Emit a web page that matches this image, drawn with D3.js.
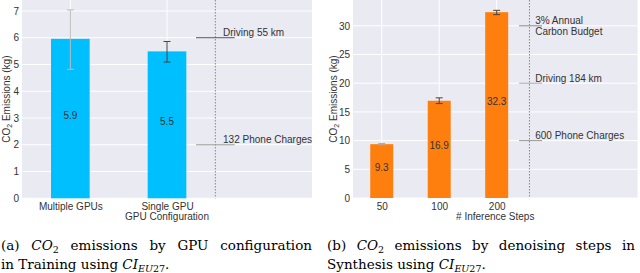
<!DOCTYPE html>
<html>
<head>
  <meta charset="utf-8">
  <style>
    body { margin: 0; background: #fff; }
    svg text { font-family: "Liberation Sans", Arial, sans-serif; }
    .cap { font-family: "DejaVu Serif", serif; }
  </style>
  <script src="https://d3js.org/d3.v7.min.js"></script>
</head>
<body>
  <div id="chart"></div>
  <script>
    // panel (a): GPU configuration
    const gpuConfigs = ["Multiple GPUs", "Single GPU"];
    const gpuEmissions = [5.96, 5.49];
    const gpuErrLow = [4.82, 5.09];
    const gpuErrHigh = [7.04, 5.86];
    const gpuBarLabels = ["5.9", "5.5"];
    const gpuRefValues = [6, 2];
    const gpuRefLabels = [["Driving 55 km"], ["132 Phone Charges"]];
    const gpuTicks = [0, 1, 2, 3, 4, 5, 6, 7];

    // panel (b): denoising steps
    const steps = ["50", "100", "200"];
    const stepEmissions = [9.38, 16.94, 32.38];
    const stepErrLow = [9.25, 16.45, 31.95];
    const stepErrHigh = [9.5, 17.45, 32.7];
    const stepBarLabels = ["9.3", "16.9", "32.3"];
    const stepRefValues = [30, 20, 10];
    const stepRefLabels = [["3% Annual", "Carbon Budget"], ["Driving 184 km"], ["600 Phone Charges"]];
    const stepTicks = [0, 5, 10, 15, 20, 25, 30];

    const svg = d3.select("#chart").append("svg")
      .attr("width", 640)
      .attr("height", 273);

    svg.append("rect").attr("width", 640).attr("height", 273).attr("fill", "#fff");

    function drawPanel(p) {
      const x = d3.scaleLinear().domain(p.xDomain).range([p.left, p.right]);
      const y = d3.scaleLinear().domain([0, p.yMax]).range([p.bottom, 0]);
      const g = svg.append("g");

      g.append("rect")
        .attr("x", p.left).attr("y", 0)
        .attr("width", p.right - p.left).attr("height", p.bottom)
        .attr("fill", "#eaeaf2");

      // grid
      g.selectAll(".hgrid").data(p.ticks).enter().append("line")
        .attr("x1", p.left).attr("x2", p.right)
        .attr("y1", d => y(d)).attr("y2", d => y(d))
        .attr("stroke", "#fff").attr("stroke-width", 1);
      g.selectAll(".vgrid").data(p.cats).enter().append("line")
        .attr("x1", (d, i) => x(i)).attr("x2", (d, i) => x(i))
        .attr("y1", 0).attr("y2", p.bottom)
        .attr("stroke", "#fff").attr("stroke-width", 1);

      // y axis, no tick marks
      const yAxis = g.append("g")
        .attr("transform", `translate(${p.left},0)`)
        .call(d3.axisLeft(y).tickValues(p.ticks).tickSize(0).tickPadding(3).tickFormat(d3.format("d")));
      yAxis.select(".domain").remove();
      yAxis.selectAll("text").style("font-size", "10px").attr("fill", "#333")
        .style("font-family", "Liberation Sans, Arial, sans-serif");

      // x axis
      const xAxis = g.append("g")
        .attr("transform", `translate(0,${p.bottom})`)
        .call(d3.axisBottom(x).tickValues(p.cats.map((d, i) => i)).tickSize(0).tickPadding(5)
          .tickFormat(i => p.cats[i]));
      xAxis.select(".domain").remove();
      xAxis.selectAll("text").style("font-size", "10px").attr("fill", "#333")
        .style("font-family", "Liberation Sans, Arial, sans-serif");

      // bars
      const bw = (x(1) - x(0)) * 0.4;
      g.selectAll(".bar").data(p.values).enter().append("rect")
        .attr("x", (d, i) => x(i) - bw / 2)
        .attr("y", d => y(d))
        .attr("width", bw)
        .attr("height", d => p.bottom - y(d))
        .attr("fill", p.color);

      // bar labels
      g.selectAll(".blab").data(p.values).enter().append("text")
        .attr("x", (d, i) => x(i))
        .attr("y", d => y(d / 2))
        .attr("text-anchor", "middle")
        .style("font-size", "10px")
        .attr("fill", "#333")
        .text((d, i) => p.barLabels[i]);

      // error bars
      p.errLow.forEach((lo, i) => {
        const hi = p.errHigh[i];
        const c = p.errColors[i];
        g.append("line")
          .attr("x1", x(i)).attr("x2", x(i))
          .attr("y1", y(lo)).attr("y2", y(hi))
          .attr("stroke", c).attr("stroke-width", 1);
        [lo, hi].forEach(v => {
          g.append("line")
            .attr("x1", x(i) - 3.5).attr("x2", x(i) + 3.5)
            .attr("y1", y(v)).attr("y2", y(v))
            .attr("stroke", c).attr("stroke-width", 1);
        });
      });

      // dotted separator
      g.append("line")
        .attr("x1", x(p.sep)).attr("x2", x(p.sep))
        .attr("y1", 0).attr("y2", p.bottom)
        .attr("stroke", "#888").attr("stroke-width", 1)
        .attr("stroke-dasharray", "1.5,1.5");

      // reference markers
      p.refValues.forEach((v, i) => {
        g.append("line")
          .attr("x1", x(p.refFrom)).attr("x2", x(p.refTo))
          .attr("y1", y(v)).attr("y2", y(v))
          .attr("stroke", p.refColors[i]).attr("stroke-width", 1);
        const t = g.append("text")
          .attr("x", x(p.refText))
          .attr("y", y(v) - 1.5)
          .style("font-size", "10px")
          .attr("fill", "#333");
        p.refLabels[i].forEach((s, k) => {
          t.append("tspan").attr("x", x(p.refText)).attr("dy", k === 0 ? 0 : 10.5).text(s);
        });
      });

      // axis labels
      g.append("text")
        .attr("x", (p.left + p.right) / 2)
        .attr("y", 220)
        .attr("text-anchor", "middle")
        .style("font-size", "10px")
        .attr("fill", "#333")
        .text(p.xLabel);

      const yl = g.append("text")
        .attr("transform", `translate(${p.yLabelX},${p.bottom / 2}) rotate(-90)`)
        .attr("text-anchor", "middle")
        .style("font-size", "10px")
        .attr("fill", "#333");
      yl.append("tspan").text("CO");
      yl.append("tspan").attr("dy", 2).style("font-size", "7px").text("2");
      yl.append("tspan").attr("dy", -2).text(" Emissions (kg)");
    }

    drawPanel({
      left: 22, right: 312, bottom: 198.3,
      xDomain: [-0.5, 2.5], yMax: 7.41,
      cats: gpuConfigs, values: gpuEmissions, barLabels: gpuBarLabels,
      errLow: gpuErrLow, errHigh: gpuErrHigh, errColors: ["#bbbbbb", "#444444"],
      ticks: gpuTicks, color: "#00bfff",
      sep: 1.5, refFrom: 1.3, refTo: 1.7, refText: 1.58,
      refValues: gpuRefValues, refLabels: gpuRefLabels, refColors: ["#555555", "#999999"],
      xLabel: "GPU Configuration", yLabelX: 9.5
    });

    drawPanel({
      left: 353, right: 637.5, bottom: 198,
      xDomain: [-0.5, 4.45], yMax: 34.5,
      cats: steps, values: stepEmissions, barLabels: stepBarLabels,
      errLow: stepErrLow, errHigh: stepErrHigh, errColors: ["#aaaaaa", "#444444", "#444444"],
      ticks: stepTicks, color: "#ff7f0e",
      sep: 2.57, refFrom: 2.39, refTo: 2.79, refText: 2.67,
      refValues: stepRefValues, refLabels: stepRefLabels, refColors: ["#888888", "#aaaaaa", "#999999"],
      xLabel: "# Inference Steps", yLabelX: 336.5
    });

    // captions; styles: i = italic, sub = start subscript, small = stay subscript, up = back to baseline
    function caption(x0, y0, parts, width) {
      const t = svg.append("text").attr("class", "cap")
        .attr("x", x0).attr("y", y0)
        .style("font-size", "13.5px").attr("fill", "#000");
      parts.forEach(([s, st]) => {
        const ts = t.append("tspan").text(s);
        const f = st.split(" ");
        if (f.includes("i")) ts.style("font-style", "italic");
        if (f.includes("sub")) ts.attr("dy", 3).style("font-size", "9.5px");
        if (f.includes("small")) ts.style("font-size", "9.5px");
        if (f.includes("up")) ts.attr("dy", -3);
      });
      if (width) {
        const len = t.node().getComputedTextLength();
        const spaces = parts.map(d => d[0]).join("").split(" ").length - 1;
        t.attr("word-spacing", (width - len) / spaces);
      }
      return t;
    }

    caption(1, 250, [["(a) ", ""], ["CO", "i"], ["2", "sub"], [" emissions by GPU configuration", "up"]], 311);
    caption(1, 269, [["in Training using ", ""], ["CI", "i"], ["EU", "i sub"], ["27", "small"], [".", "up"]]);
    caption(327, 250, [["(b) ", ""], ["CO", "i"], ["2", "sub"], [" emissions by denoising steps in", "up"]], 308);
    caption(327, 269, [["Synthesis using ", ""], ["CI", "i"], ["EU", "i sub"], ["27", "small"], [".", "up"]]);
  </script>
</body>
</html>
